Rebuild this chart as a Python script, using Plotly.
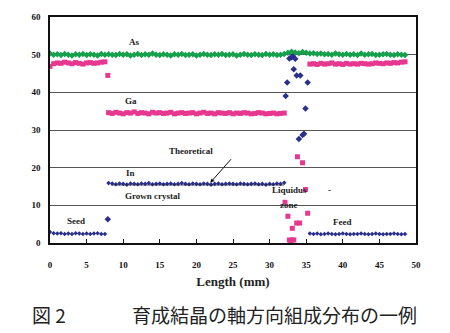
import plotly.graph_objects as go

# ---------------- data ----------------
as_x = [0, 0.5, 1, 1.5, 2, 2.5, 3, 3.5, 4, 4.5, 5, 5.5, 6, 6.5, 7, 7.5, 8,
        8.5, 9, 9.5, 10, 10.5, 11, 11.5, 12, 12.5, 13, 13.5, 14, 14.5, 15, 15.5, 16,
        16.5, 17, 17.5, 18, 18.5, 19, 19.5, 20, 20.5, 21, 21.5, 22, 22.5, 23, 23.5, 24,
        24.5, 25, 25.5, 26, 26.5, 27, 27.5, 28, 28.5, 29, 29.5, 30, 30.5, 31, 31.5, 32,
        32.5, 33, 33.5, 34, 34.5, 35, 35.5, 36, 36.5, 37, 37.5, 38, 38.5, 39, 39.5, 40,
        40.5, 41, 41.5, 42, 42.5, 43, 43.5, 44, 44.5, 45, 45.5, 46, 46.5, 47, 47.5, 48, 48.5]
as_y = [50.3, 50.0, 50.1, 49.9, 50.2, 50.0, 49.8, 50.1, 50.0, 50.2, 49.9, 50.1, 50.0, 49.8, 50.2, 50.0, 50.1,
        50.0, 49.9, 50.2, 50.0, 50.1, 49.8, 50.0, 50.2, 49.9, 50.1, 50.0, 50.3, 50.0, 49.9, 50.1, 50.0,
        49.8, 50.1, 50.0, 50.2, 49.9, 50.0, 50.1, 49.8, 50.0, 50.2, 50.0, 49.9, 50.1, 50.0, 50.2, 49.9,
        50.0, 50.1, 49.8, 50.0, 50.2, 50.0, 49.9, 50.1, 50.0, 49.9, 50.2, 50.0, 50.1, 49.9, 50.0, 50.2,
        50.5, 50.8, 50.6, 50.4, 50.7, 50.5, 50.3, 50.4, 50.2, 50.3, 50.1, 50.2, 50.0, 50.3, 50.1, 50.0,
        50.2, 50.0, 50.1, 49.9, 50.3, 50.0, 50.1, 50.2, 49.9, 50.0, 50.1, 50.2, 50.0, 49.9, 50.1, 50.0, 49.9]

seed_x = [0, 0.5, 1, 1.5, 2, 2.5, 3, 3.5, 4, 4.5, 5, 5.5, 6, 6.5, 7, 7.5]
grown_x = [8, 8.5, 9, 9.5, 10, 10.5, 11, 11.5, 12, 12.5, 13, 13.5, 14, 14.5, 15, 15.5, 16,
           16.5, 17, 17.5, 18, 18.5, 19, 19.5, 20, 20.5, 21, 21.5, 22, 22.5, 23, 23.5, 24,
           24.5, 25, 25.5, 26, 26.5, 27, 27.5, 28, 28.5, 29, 29.5, 30, 30.5, 31, 31.5, 32]
feed_x = [35.5, 36, 36.5, 37, 37.5, 38, 38.5, 39, 39.5, 40, 40.5, 41, 41.5, 42, 42.5,
          43, 43.5, 44, 44.5, 45, 45.5, 46, 46.5, 47, 47.5, 48, 48.5]

ga_seed_y = [46.9, 47.6, 47.8, 47.7, 48.0, 47.8, 47.6, 47.9, 47.7, 47.5, 47.8, 47.9, 47.7, 47.8, 48.0, 48.1]
ga_grown_y = [34.6, 34.4, 34.7, 34.5, 34.3, 34.6, 34.5, 34.8, 34.4, 34.6, 34.5, 34.3, 34.7, 34.5, 34.6, 34.4, 34.5,
              34.7, 34.3, 34.5, 34.6, 34.4, 34.5, 34.6, 34.3, 34.5, 34.7, 34.4, 34.5, 34.3, 34.6, 34.5, 34.4,
              34.6, 34.3, 34.5, 34.4, 34.6, 34.5, 34.3, 34.4, 34.6, 34.5, 34.3, 34.4, 34.5, 34.3, 34.4, 34.5]
ga_feed_y = [47.5, 47.6, 47.4, 47.7, 47.5, 47.6, 47.8, 47.5, 47.6, 47.4, 47.7, 47.5, 47.6, 47.5, 47.7,
             47.6, 47.5, 47.6, 47.8, 47.7, 47.6, 47.8, 47.7, 47.9, 47.8, 48.0, 48.1]
ga_zone_x = [7.9, 32.1, 32.5, 32.7, 32.9, 33.1, 33.3, 33.1, 33.7, 34.1, 35.2, 33.8, 34.5, 34.9]
ga_zone_y = [44.5, 10.8, 7.1, 0.8, 0.6, 0.8, 0.8, 3.9, 5.3, 5.3, 7.9, 22.9, 21.3, 14.2]

in_seed_y = [2.9, 2.6, 2.5, 2.6, 2.4, 2.5, 2.4, 2.6, 2.5, 2.4, 2.5, 2.4, 2.5, 2.6, 2.4, 2.4]
in_grown_y = [15.9, 15.8, 15.6, 15.8, 15.7, 15.5, 15.8, 15.7, 15.6, 15.8, 15.7, 15.9, 15.6, 15.7, 15.8, 15.6, 15.7,
              15.8, 15.6, 15.7, 15.9, 15.7, 15.6, 15.8, 15.7, 15.6, 15.8, 15.7, 15.5, 15.7, 15.8, 15.6, 15.7,
              15.8, 15.7, 15.6, 15.8, 15.7, 15.6, 15.7, 15.8, 15.6, 15.7, 15.5, 15.7, 15.6, 15.8, 15.7, 16.0]
in_feed_y = [2.5, 2.4, 2.5, 2.3, 2.4, 2.5, 2.4, 2.3, 2.4, 2.5, 2.4, 2.3, 2.4, 2.4, 2.5,
             2.4, 2.3, 2.4, 2.5, 2.4, 2.3, 2.4, 2.4, 2.5, 2.4, 2.3, 2.4]
in_zone_x = [7.9, 32.7, 33.0, 33.2, 33.5, 33.3, 33.7, 34.2, 32.4, 35.2, 32.2, 34.9, 34.7, 34.5, 34.0]
in_zone_y = [6.3, 49.0, 49.3, 49.5, 48.9, 46.1, 44.5, 44.5, 42.6, 42.6, 39.0, 35.7, 29.0, 28.7, 27.6]

theo_x = [8.3, 32.0]
theo_y = [15.4, 15.4]

x_ticks = [0, 5, 10, 15, 20, 25, 30, 35, 40, 45, 50]
y_ticks = [0, 10, 20, 30, 40, 50, 60]

# ---------------- styles ----------------
GREEN = "#16a04c"
PINK = "#e8378f"
BLUE = "#2a2f8e"
SERIF = "Liberation Serif"

fig = go.Figure()

fig.add_trace(go.Scatter(x=as_x, y=as_y, mode="markers",
                         marker=dict(symbol="diamond", size=5, color=GREEN)))
for xs, ys in [(seed_x, ga_seed_y), (grown_x, ga_grown_y), (feed_x, ga_feed_y)]:
    fig.add_trace(go.Scatter(x=xs, y=ys, mode="markers",
                             marker=dict(symbol="square", size=5, color=PINK)))
fig.add_trace(go.Scatter(x=ga_zone_x, y=ga_zone_y, mode="markers",
                         marker=dict(symbol="square", size=5, color=PINK)))
for xs, ys in [(seed_x, in_seed_y), (grown_x, in_grown_y), (feed_x, in_feed_y)]:
    fig.add_trace(go.Scatter(x=xs, y=ys, mode="markers",
                             marker=dict(symbol="diamond", size=3.5, color=BLUE)))
fig.add_trace(go.Scatter(x=in_zone_x, y=in_zone_y, mode="markers",
                         marker=dict(symbol="diamond", size=5, color=BLUE)))
fig.add_trace(go.Scatter(x=theo_x, y=theo_y, mode="lines",
                         line=dict(color="#222244", width=0.8)))

labels = [("As", 11.6, 53.4), ("Ga", 11.1, 37.6), ("In", 11.0, 18.7),
          ("Grown crystal", 14.1, 12.6), ("Theoretical", 19.2, 24.5),
          ("Seed", 3.6, 5.8), ("Liquidus", 32.7, 14.2), ("-", 38.2, 14.0),
          ("zone", 32.6, 10.0), ("Feed", 40.0, 5.5)]
annotations = []
for t, x, y in labels:
    annotations.append(dict(x=x, y=y, text="<b>" + t + "</b>", showarrow=False, xref="x", yref="y",
                            font=dict(family=SERIF, size=9, color="#222"),
                            xanchor="center", yanchor="middle"))
annotations.append(dict(x=21.9, y=16.0, xref="x", yref="y", text="", showarrow=True,
                        ax=22, ay=-25, arrowhead=2, arrowsize=0.8, arrowwidth=1,
                        arrowcolor="#111"))
annotations.append(dict(x=-0.055, y=-0.316, xref="paper", yref="paper", text="図 2",
                        showarrow=False, xanchor="left", yanchor="middle",
                        font=dict(family="Noto Sans CJK JP", size=19, color="#222")))
annotations.append(dict(x=0.219, y=-0.316, xref="paper", yref="paper",
                        text="育成結晶の軸方向組成分布の一例",
                        showarrow=False, xanchor="left", yanchor="middle",
                        font=dict(family="Noto Sans CJK JP", size=19, color="#222")))

fig.update_layout(
    width=450, height=333,
    margin=dict(l=50, r=34, t=15, b=90),
    paper_bgcolor="white", plot_bgcolor="white",
    showlegend=False,
    annotations=annotations,
    xaxis=dict(range=[0, 50], tickvals=x_ticks, ticktext=["<b>%d</b>" % v for v in x_ticks],
               ticks="inside", ticklen=4,
               tickcolor="#111", showline=True, linecolor="#111", linewidth=1.5,
               mirror=True, showgrid=False, zeroline=False,
               tickfont=dict(family=SERIF, size=9, color="#111"),
               ticklabelstandoff=12,
               title=dict(text="<b>Length (mm)</b>", standoff=8,
                          font=dict(family=SERIF, size=13, color="#222"))),
    yaxis=dict(range=[0, 60], tickvals=y_ticks, ticktext=["<b>%d</b>" % v for v in y_ticks],
               ticks="", showline=True,
               linecolor="#111", linewidth=1.5, mirror=True, showgrid=True,
               gridcolor="#555", gridwidth=1, zeroline=False,
               tickfont=dict(family=SERIF, size=9, color="#111"),
               ticklabelstandoff=6),
)

fig.write_html("out.html")
